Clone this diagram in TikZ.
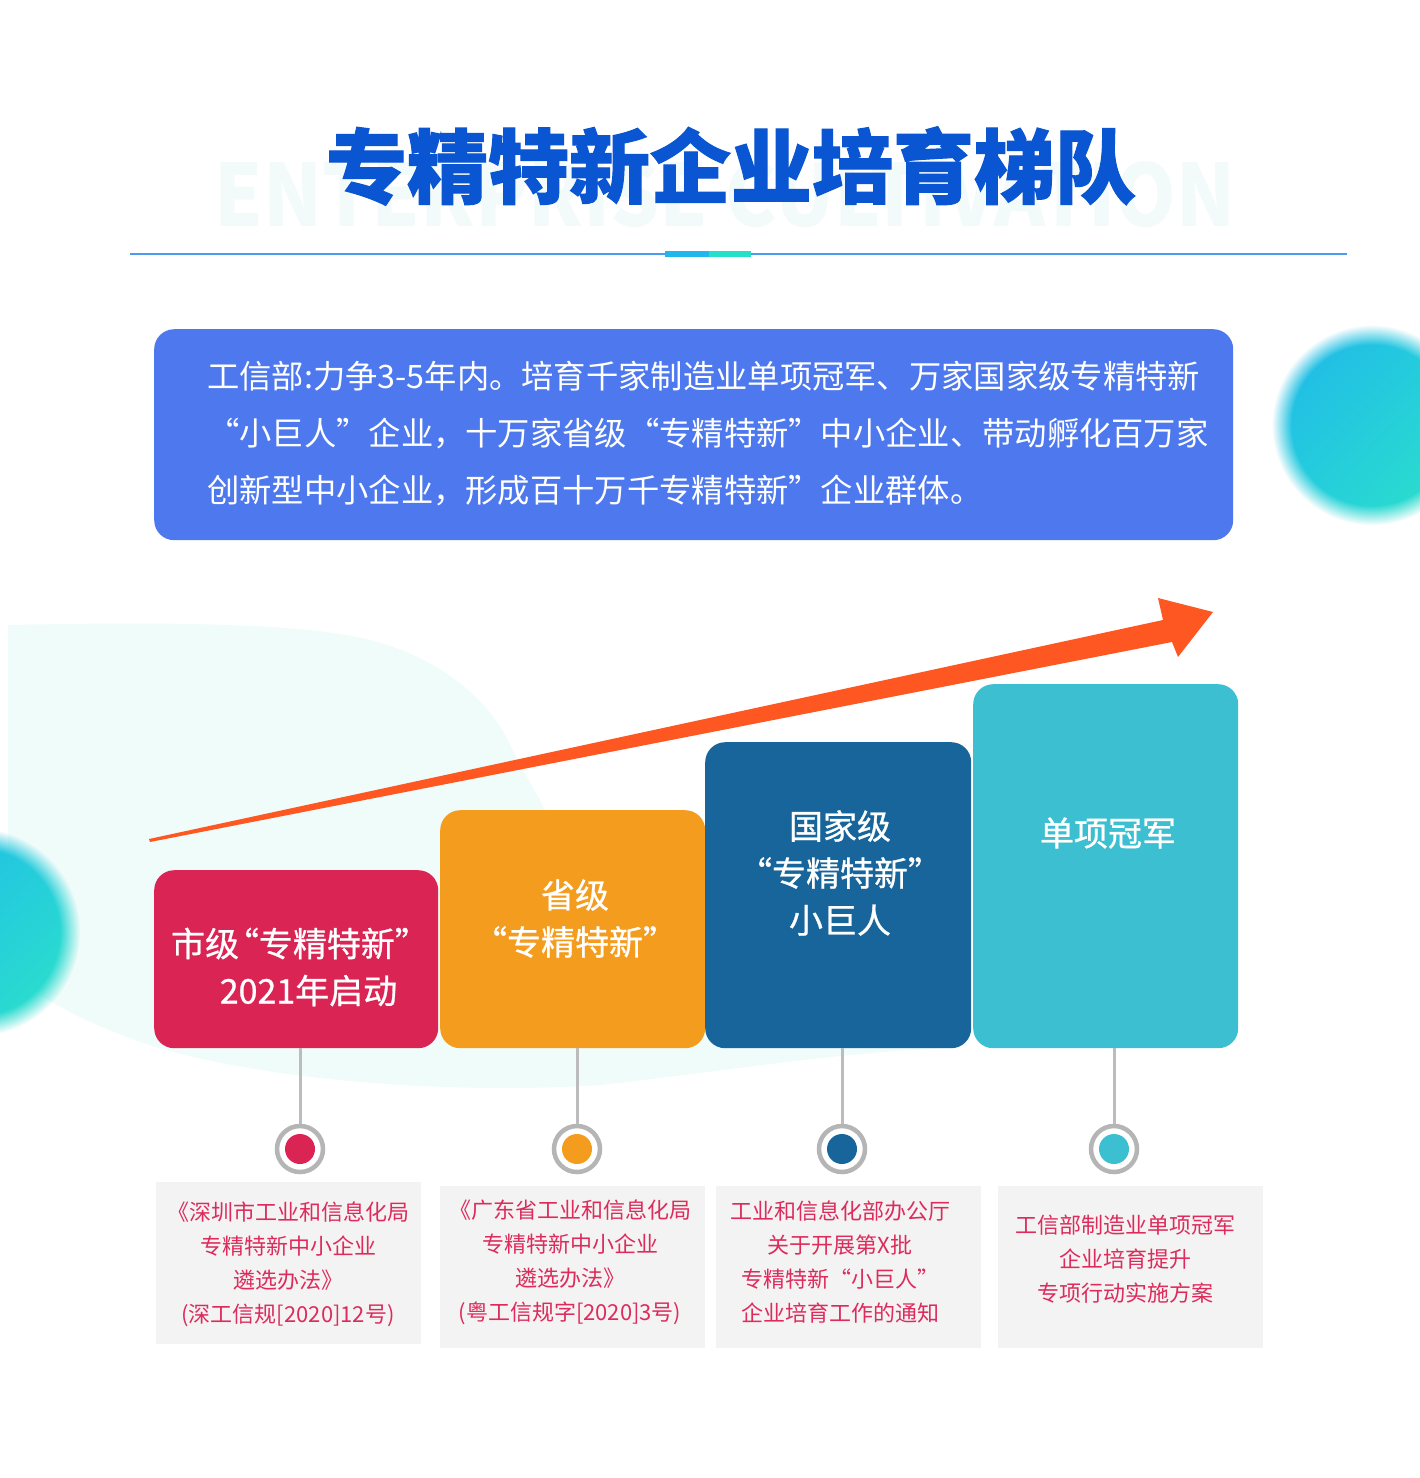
\documentclass[tikz,border=0pt]{standalone}
\usepackage{fontspec}
\usepackage{graphicx}
\setmainfont{Noto Sans CJK SC}
\newfontfamily\cjktitle{Noto Sans CJK SC}[BoldFeatures={FakeBold=1.3}]
\newfontfamily\cjkbar{Noto Sans CJK SC}[FakeBold=0.8]
\usetikzlibrary{fadings,shadings}
\pgfdeclareradialshading{blobshade}{\pgfpointorigin}{color(0bp)=(pgftransparent!0); color(20bp)=(pgftransparent!0); color(25bp)=(pgftransparent!100); color(50bp)=(pgftransparent!100)}
\pgfdeclarefading{softedge}{\pgfuseshading{blobshade}}
\definecolor{titleblue}{HTML}{0A56D2}
\definecolor{wmark}{HTML}{F2FAFA}
\definecolor{lineblue}{HTML}{4C9BEF}
\definecolor{accentA}{HTML}{1FB7EC}
\definecolor{accentB}{HTML}{25E0C8}
\definecolor{boxblue}{HTML}{4E79EE}
\definecolor{pale}{HTML}{F0FCFA}
\definecolor{arrowor}{HTML}{FF5722}
\definecolor{barA}{HTML}{D92454}
\definecolor{barB}{HTML}{F49C1E}
\definecolor{barC}{HTML}{17659A}
\definecolor{barD}{HTML}{3BBFD1}
\definecolor{ringgray}{HTML}{B5B5B5}
\definecolor{docgray}{HTML}{F3F3F3}
\definecolor{doctext}{HTML}{DD2C5C}
\definecolor{blobA}{HTML}{1FB6EA}
\definecolor{blobB}{HTML}{24CDDC}
\definecolor{blobC}{HTML}{2EE5C6}
\tikzset{
  barbox/.style={rounded corners=20, anchor=north west, inner sep=0, minimum width=#1},
  bartext/.style={text=white, align=center, font=\cjkbar\fontsize{34}{47}\selectfont, inner sep=0},
  infotext/.style={text=white, anchor=base west, font=\fontsize{32.3}{32.3}\selectfont, inner sep=0},
  docbox/.style={fill=docgray, anchor=north west, inner sep=0, minimum width=265, minimum height=162},
  doctxt/.style={text=doctext, align=center, font=\fontsize{22}{34}\selectfont, inner sep=0},
  ring/.style={circle, draw=ringgray, line width=4.5, fill=white, minimum size=46, inner sep=0},
  dot/.style={circle, fill=#1, minimum size=30, inner sep=0},
  stem/.style={draw=ringgray!90, line width=3},
  blob/.style={path fading=softedge, upper left=blobA, upper right=blobB, lower left=blobB, lower right=blobC},
}
\begin{document}
\begin{tikzpicture}[x=1pt,y=-1pt]
\useasboundingbox (0,0) rectangle (1420,1478);
\fill[white] (0,0) rectangle (1420,1478);

% pale background shape
\fill[pale] (8,625) .. controls (150,622) and (300,622) .. (370,640)
  .. controls (440,658) and (490,700) .. (510,745)
  .. controls (525,775) and (535,790) .. (545,810) -- (545,830) -- (960,830) -- (960,1048)
  .. controls (850,1050) and (720,1072) .. (600,1085)
  .. controls (450,1095) and (260,1080) .. (150,1045)
  .. controls (90,1025) and (40,1000) .. (8,970) -- cycle;

% blurred blobs
\shade[blob] (1372,425) circle[radius=100];
\shade[blob] (-24,932) circle[radius=104];

% watermark and title
\node[text=wmark, inner sep=0] (wm) at (725,194.5) {\resizebox{1020pt}{65pt}{\bfseries ENTERPRISE CULTIVATION}};
\node[text=titleblue, inner sep=0, font=\cjktitle\bfseries\fontsize{81}{81}\selectfont] (title) at (731,166) {专精特新企业培育梯队};

% divider
\draw[lineblue, line width=1.5] (130,254) -- (1347,254);
\fill[accentA] (665,251) rectangle (709,257);
\fill[accentB] (709,251) rectangle (751,257);

% info box
\node[fill=boxblue, rounded corners=20, anchor=north west, inner sep=0, minimum width=1079, minimum height=211] (info) at (154,329) {};
\node[infotext] (l1) at (207,388) {工信部:力争3-5年内。培育千家制造业单项冠军、万家国家级专精特新};
\node[infotext] (l2) at (207,445) {“小巨人”企业，十万家省级“专精特新”中小企业、带动孵化百万家};
\node[infotext] (l3) at (207,502) {创新型中小企业，形成百十万千专精特新”企业群体。};

% arrow
\fill[arrowor] (149,839) -- (1163,620) -- (1158,598) -- (1213,612) -- (1178,657) -- (1172,642) -- (150,842) -- cycle;

% bars
\node[barbox=284, fill=barA, minimum height=178] (bar1) at (154,870) {};
\node[barbox=265, fill=barB, minimum height=238] (bar2) at (440,810) {};
\node[barbox=266, fill=barC, minimum height=306] (bar3) at (705,742) {};
\node[barbox=265, fill=barD, minimum height=364] (bar4) at (973,684) {};
\node[bartext] (t1) at (300,967) {市级\hspace{-0.42em}“专精特新”\\\hspace{0.5em}2021年启动};
\node[bartext] (t2) at (575,918.5) {省级\\“专精特新”};
\node[bartext] (t3) at (840,873) {国家级\\“专精特新”\\小巨人};
\node[bartext] (t4) at (1108,833) {单项冠军};

% rings
\node[ring] (r1) at (300,1149) {};
\node[ring] (r2) at (577,1149) {};
\node[ring] (r3) at (842,1149) {};
\node[ring] (r4) at (1114,1149) {};
\node[dot=barA] (d1) at (r1) {};
\node[dot=barB] (d2) at (r2) {};
\node[dot=barC] (d3) at (r3) {};
\node[dot=barD] (d4) at (r4) {};
\draw[stem] (r1.north) -- (r1.north |- bar1.south);
\draw[stem] (r2.north) -- (r2.north |- bar2.south);
\draw[stem] (r3.north) -- (r3.north |- bar3.south);
\draw[stem] (r4.north) -- (r4.north |- bar4.south);

% document boxes
\node[docbox] (b1) at (156,1182) {};
\node[docbox] (b2) at (440,1186) {};
\node[docbox] (b3) at (716,1186) {};
\node[docbox] (b4) at (998,1186) {};
\node[doctxt] (x1) at (288,1264) {《深圳市工业和信息化局\\专精特新中小企业\\遴选办法》\\(深工信规[2020]12号)};
\node[doctxt] (x2) at (570,1262) {《广东省工业和信息化局\\专精特新中小企业\\遴选办法》\\(粤工信规字[2020]3号)};
\node[doctxt] (x3) at (840,1262) {工业和信息化部办公厅\\关于开展第X批\\专精特新“小巨人”\\企业培育工作的通知};
\node[doctxt] (x4) at (1125,1259) {工信部制造业单项冠军\\企业培育提升\\专项行动实施方案};
\end{tikzpicture}
\end{document}
